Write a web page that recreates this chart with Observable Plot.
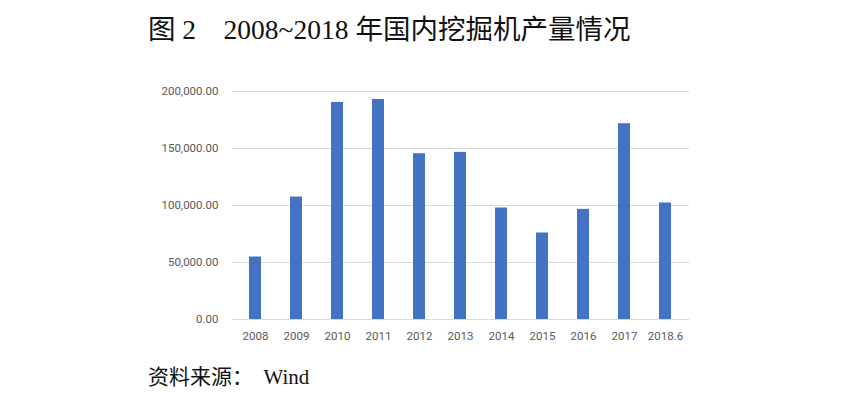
<!DOCTYPE html>
<html>
<head>
<meta charset="utf-8">
<script src="https://cdn.jsdelivr.net/npm/d3@7"></script>
<script src="https://cdn.jsdelivr.net/npm/@observablehq/plot@0.6"></script>
<style>
  html, body { margin: 0; padding: 0; background: #ffffff; width: 846px; height: 398px; overflow: hidden; }
  #wrap { position: relative; width: 846px; height: 398px; }
  #title { position: absolute; left: 148px; top: 7px; font-family: "Liberation Serif", "Noto Sans CJK SC", serif; font-size: 27.5px; color: #111; white-space: pre; }
  #chart { position: absolute; left: 0; top: 70px; }
  #caption { position: absolute; left: 148px; top: 360px; font-family: "Liberation Serif", "Noto Sans CJK SC", serif; font-size: 21px; color: #111; white-space: pre; }
</style>
</head>
<body>
<div id="wrap">
  <div id="title">图 2　2008~2018 年国内挖掘机产量情况</div>
  <div id="chart"></div>
  <div id="caption">资料来源：  Wind</div>
</div>
<script>
const years = ["2008","2009","2010","2011","2012","2013","2014","2015","2016","2017","2018.6"];
const output = [54800, 107400, 190400, 193000, 145400, 146600, 97800, 75900, 96600, 171700, 102200];
const yTicks = [0, 50000, 100000, 150000, 200000];

const data = years.map((y, i) => ({year: y, value: output[i]}));

const chart = Plot.plot({
  width: 846,
  height: 290,
  marginLeft: 232,
  marginRight: 157,
  marginTop: 21,
  marginBottom: 41,
  style: {background: "transparent", fontFamily: "Roboto, 'Liberation Sans', sans-serif", fontSize: "11.5px", color: "#595959"},
  x: {domain: years, paddingInner: 0.7, paddingOuter: 0.35, label: null},
  y: {domain: [0, 200000], label: null},
  marks: [
    Plot.gridY(yTicks, {stroke: "#d9d9d9", strokeOpacity: 1, strokeWidth: 1}),
    Plot.barY(data, {x: "year", y: "value", fill: "#4472C4"}),
    Plot.axisX({tickSize: 0, tickPadding: 12, fill: "#595959"}),
    Plot.axisY(yTicks, {tickSize: 0, tickPadding: 14, tickFormat: d3.format(",.2f"), fill: "#595959"})
  ]
});
document.getElementById("chart").appendChild(chart);
</script>
</body>
</html>
